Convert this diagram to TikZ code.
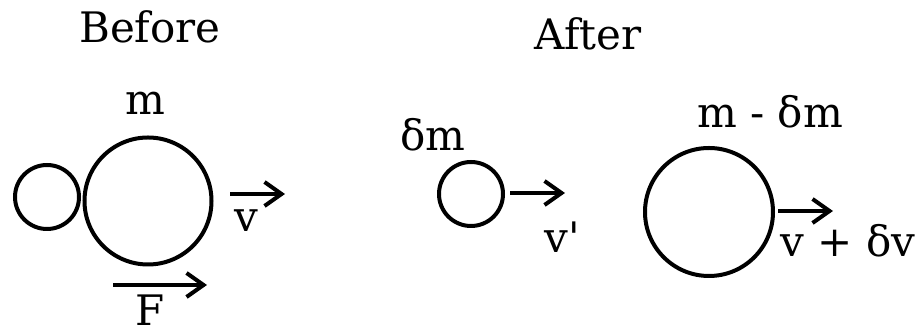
\documentclass[tikz,border=0pt]{standalone}
\usepackage{fontspec}
\setmainfont{DejaVu Serif}
\usetikzlibrary{arrows.meta}

\begin{document}
\begin{tikzpicture}[
    body/.style={circle, draw, line width=2pt, inner sep=0pt},
    vel/.style={-{Straight Barb[length=8.5pt, width=12pt]}, line width=2pt},
    lbl/.style={font=\fontsize{21}{25}\selectfont, inner sep=0pt, anchor=base},
    x=0.5pt, y=-0.5pt
]
\useasboundingbox (0,0) rectangle (917,335);

%% Titoli
\node[lbl] (before) at (150,43) {Before};
\node[lbl] (after)  at (588,50) {After};

%% Prima
\node[body, minimum size=32pt]   (smallL) at (47,197)  {};
\node[body, minimum size=63.5pt] (bigL)   at (148,201) {};
\node[lbl] (mL) at (145,115) {m};

\coordinate (vA) at (230,194);
\coordinate (vB) at (285,194);
\draw[vel] (vA) -- (vB);
\node[lbl] (vL) at (246,232) {v};

\coordinate (fA) at (113,285);
\coordinate (fB) at (207,285);
\draw[vel] (fA) -- (fB);
\node[lbl] (fL) at (150,326) {F};

%% Dopo
\node[body, minimum size=32pt] (smallR) at (471,194) {};
\node[lbl] (dm) at (433,151) {δm};

\coordinate (wA) at (510,193);
\coordinate (wB) at (565,193);
\draw[vel] (wA) -- (wB);
\node[lbl] (wL) at (562,253) {v\textquotesingle};

\node[body, minimum size=64pt] (bigR) at (709,212) {};
\node[lbl] (mdm) at (770,128) {m - δm};

\coordinate (uA) at (778,211);
\coordinate (uB) at (833,211);
\draw[vel] (uA) -- (uB);
\node[lbl] (uL) at (848,257) {v + δv};

\end{tikzpicture}
\end{document}
